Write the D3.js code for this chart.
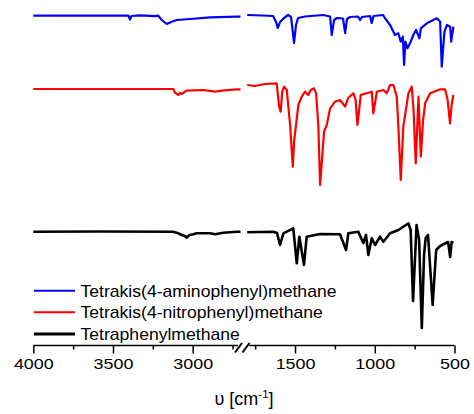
<!DOCTYPE html>
<html>
<head>
<meta charset="utf-8">
<script src="https://cdn.jsdelivr.net/npm/d3@7"></script>
<style>
  html, body { margin: 0; padding: 0; background: #fff; }
  svg { display: block; font-family: "Liberation Sans", Arial, sans-serif; }
</style>
</head>
<body>
<svg id="chart" width="474" height="414"></svg>
<script>
// FT-IR spectra: [wavenumber (cm^-1), relative transmittance]
const aminoSpectrum = [
  [4000, 1.0], [3425, 1.0], [3403, 1.0], [3393, 0.962], [3384, 0.997], [3331, 1.004],
  [3237, 0.995], [3216, 1.0], [3194, 0.957], [3163, 0.917], [3132, 0.94], [3100, 0.957],
  [3017, 0.967], [2891, 0.984], [2724, 0.99], [2700, 0.99],
  [1800, 1.007], [1707, 1.002], [1638, 0.997], [1619, 0.937], [1609, 0.877], [1594, 0.937],
  [1569, 0.977], [1544, 1.007], [1525, 0.987], [1506, 0.727], [1494, 0.907], [1481, 0.977],
  [1437, 0.992], [1324, 1.007], [1280, 0.992], [1270, 0.807], [1255, 0.957], [1238, 0.977],
  [1199, 0.972], [1186, 0.827], [1174, 0.967], [1155, 0.987], [1105, 0.992], [1092, 0.957],
  [1080, 0.987], [1030, 0.997], [1019, 0.927], [1008, 0.997], [948, 1.007], [935, 0.974],
  [904, 0.907], [873, 0.807], [852, 0.824], [837, 0.74], [824, 0.79], [816, 0.507],
  [808, 0.74], [795, 0.674], [779, 0.724], [758, 0.807], [741, 0.857], [720, 0.774],
  [711, 0.874], [674, 0.924], [611, 0.974], [590, 0.94], [580, 0.49], [563, 0.84],
  [548, 0.907], [527, 0.89], [521, 0.74], [507, 0.89]
];

const nitroSpectrum = [
  [4000, 0.997], [3122, 0.997], [3111, 0.96], [3090, 0.937], [3080, 0.957], [3069, 0.947],
  [3038, 0.98], [2935, 0.987], [2860, 0.97], [2818, 0.98], [2724, 0.994], [2700, 0.994],
  [1800, 1.037], [1751, 1.027], [1688, 1.047], [1615, 1.054], [1600, 0.82], [1590, 0.77],
  [1580, 0.97], [1569, 1.02], [1552, 0.987], [1531, 0.637], [1514, 0.22], [1506, 0.47],
  [1494, 0.637], [1479, 0.837], [1458, 0.92], [1437, 0.97], [1417, 0.937], [1402, 0.987],
  [1381, 1.004], [1368, 0.954], [1354, 0.637], [1343, 0.037], [1332, 0.27], [1318, 0.57],
  [1301, 0.637], [1280, 0.804], [1249, 0.87], [1218, 0.887], [1186, 0.82], [1167, 0.907],
  [1134, 0.954], [1120, 0.887], [1109, 0.637], [1098, 0.787], [1088, 0.937], [1019, 0.97],
  [1009, 0.754], [987, 0.97], [946, 0.987], [925, 0.954], [904, 1.037], [883, 1.037],
  [862, 0.92], [851, 0.587], [837, 0.087], [821, 0.62], [789, 0.954], [768, 1.02],
  [757, 0.787], [743, 0.254], [726, 0.92], [711, 0.32], [697, 0.687], [684, 0.854],
  [653, 0.954], [590, 0.994], [559, 0.994], [543, 0.887], [528, 0.654], [518, 0.837],
  [507, 0.937]
];

const phenylSpectrum = [
  [4000, 1.0], [3582, 1.002], [3122, 1.0], [3090, 0.984], [3069, 0.967], [3048, 0.957],
  [3038, 0.94], [3021, 0.967], [2996, 0.974], [2975, 0.984], [2891, 0.984], [2860, 0.974],
  [2808, 0.99], [2724, 1.0], [2700, 1.0],
  [1800, 0.994], [1636, 1.0], [1613, 0.987], [1594, 0.867], [1573, 0.984], [1511, 1.034],
  [1489, 0.684], [1473, 0.95], [1444, 0.667], [1427, 0.95], [1343, 0.977], [1218, 0.974],
  [1180, 0.817], [1166, 0.984], [1103, 1.0], [1072, 0.887], [1055, 0.967], [1040, 0.767],
  [1019, 0.934], [998, 0.867], [967, 0.95], [946, 0.9], [904, 0.984], [852, 1.017],
  [789, 1.084], [775, 1.017], [760, 0.307], [738, 1.067], [722, 0.917], [705, 0.037],
  [691, 0.767], [681, 0.937], [666, 0.967], [637, 0.267], [615, 0.817], [590, 0.857],
  [553, 0.887], [540, 0.897], [527, 0.747], [518, 0.897], [507, 0.887]
];

const seriesNames = [
  "Tetrakis(4-aminophenyl)methane",
  "Tetrakis(4-nitrophenyl)methane",
  "Tetraphenylmethane"
];
const seriesColors = ["#0000ff", "#ff0000", "#000000"];
const seriesOffsets = [2.16, 1.43, 0];

// broken wavenumber axis: high-frequency panel and fingerprint panel
const highDomain = [4000, 2700];
const lowDomain = [1800, 500];
const highMajorTicks = [4000, 3500, 3000];
const highMinorTicks = [3750, 3250, 2750];
const lowMajorTicks = [1500, 1000, 500];
const lowMinorTicks = [1750, 1250, 750];

const svg = d3.select("#chart");
const axisY = 345.5;

const xHigh = d3.scaleLinear().domain(highDomain).range([33.3, 240.5]);
const xLow = d3.scaleLinear().domain(lowDomain).range([247.2, 454.5]);
const y = d3.scaleLinear().domain([0, 3]).range([331.7, 31.7]);

const spectra = [aminoSpectrum, nitroSpectrum, phenylSpectrum];
const widths = [2.2, 2.2, 2.6];

spectra.forEach((data, i) => {
  const off = seriesOffsets[i];
  const high = data.filter(d => d[0] <= highDomain[0] && d[0] >= highDomain[1]);
  const low = data.filter(d => d[0] <= lowDomain[0] && d[0] >= lowDomain[1]);
  const lineHigh = d3.line().x(d => xHigh(d[0])).y(d => y(d[1] + off));
  const lineLow = d3.line().x(d => xLow(d[0])).y(d => y(d[1] + off));
  [[high, lineHigh], [low, lineLow]].forEach(([seg, gen]) => {
    svg.append("path")
      .datum(seg)
      .attr("d", gen)
      .attr("fill", "none")
      .attr("stroke", seriesColors[i])
      .attr("stroke-width", widths[i])
      .attr("stroke-linejoin", "round");
  });
});

// x axis (two segments with break marks)
function drawAxis(scale, majors, minors) {
  const gMaj = svg.append("g")
    .attr("transform", `translate(0,${axisY})`)
    .call(d3.axisBottom(scale).tickValues(majors).tickSize(8).tickSizeOuter(0)
      .tickPadding(5.5).tickFormat(d3.format("d")));
  gMaj.select(".domain").remove();
  gMaj.selectAll(".tick line").attr("stroke", "#000").attr("stroke-width", 1.5);
  gMaj.selectAll(".tick text")
    .attr("font-family", "Liberation Sans, Arial, sans-serif")
    .attr("font-size", 14)
    .attr("fill", "#000")
    .attr("transform", "scale(1.28,1)");
  const gMin = svg.append("g")
    .attr("transform", `translate(0,${axisY})`)
    .call(d3.axisBottom(scale).tickValues(minors).tickSize(4).tickSizeOuter(0).tickFormat(""));
  gMin.select(".domain").remove();
  gMin.selectAll(".tick line").attr("stroke", "#000").attr("stroke-width", 1.5);
}
drawAxis(xHigh, highMajorTicks, highMinorTicks);
drawAxis(xLow, lowMajorTicks, lowMinorTicks);

const leftEnd = xHigh(highDomain[1]) - 2.5;
const rightStart = xLow(lowDomain[0]) + 2;
svg.append("line").attr("x1", xHigh(highDomain[0])).attr("x2", leftEnd)
  .attr("y1", axisY).attr("y2", axisY).attr("stroke", "#000").attr("stroke-width", 1.6);
svg.append("line").attr("x1", rightStart).attr("x2", xLow(lowDomain[1]))
  .attr("y1", axisY).attr("y2", axisY).attr("stroke", "#000").attr("stroke-width", 1.6);

// break slashes
[leftEnd - 3, leftEnd + 4.5].forEach(x0 => {
  svg.append("line")
    .attr("x1", x0).attr("y1", axisY + 7)
    .attr("x2", x0 + 7).attr("y2", axisY - 2.5)
    .attr("stroke", "#000").attr("stroke-width", 2);
});

// axis title
const title = svg.append("text")
  .attr("x", 244).attr("y", 405)
  .attr("text-anchor", "middle")
  .attr("font-size", 18)
  .attr("fill", "#000");
title.append("tspan").text("\u03C5 [cm");
title.append("tspan").attr("dy", -7.5).attr("font-size", 11.5).text("-1");
title.append("tspan").attr("dy", 7.5).text("]");

// legend
const legendRows = [290.7, 312.3, 334];
const legendWidths = [2, 2, 3];
seriesNames.forEach((name, i) => {
  const ly = legendRows[i];
  svg.append("line")
    .attr("x1", 34).attr("x2", 75).attr("y1", ly).attr("y2", ly)
    .attr("stroke", seriesColors[i]).attr("stroke-width", legendWidths[i]);
  svg.append("text")
    .attr("transform", `translate(80.5,${ly + 6}) scale(1.1,1)`)
    .attr("font-size", 16)
    .attr("fill", "#000")
    .text(name);
});
</script>
</body>
</html>
